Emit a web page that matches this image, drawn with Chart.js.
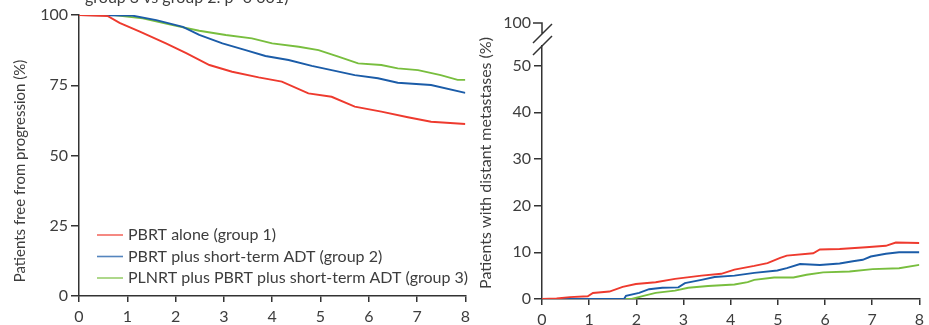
<!DOCTYPE html>
<html>
<head>
<meta charset="utf-8">
<script src="https://cdn.jsdelivr.net/npm/chart.js@4.4.1/dist/chart.umd.min.js"></script>
<style>
  html, body { margin: 0; padding: 0; background: #fff; }
  #wrap { position: relative; width: 929px; height: 325px; overflow: hidden; }
  #left { position: absolute; left: 0; top: 0; }
  #right { position: absolute; left: 470px; top: 0; }
</style>
</head>
<body>
<div id="wrap">
  <canvas id="left" width="475" height="325"></canvas>
  <canvas id="right" width="459" height="325"></canvas>
</div>
<script>
// ---- data ----
const groupLabels = [
  'PBRT alone (group 1)',
  'PBRT plus short-term ADT (group 2)',
  'PLNRT plus PBRT plus short-term ADT (group 3)'
];
const xTicks = [0, 1, 2, 3, 4, 5, 6, 7, 8];
const pfsTicks = [0, 25, 50, 75, 100];
const dmTicks = [0, 10, 20, 30, 40, 50];
const dmBreakLabel = '100';
const pfsTitle = 'Patients free from progression (%)';
const dmTitle = 'Patients with distant metastases (%)';

// freedom from progression (%), by year
const pfsYears1 = [0, 0.6, 0.84, 1.26, 1.8, 2.22, 2.7, 3.17, 3.72, 4.2, 4.75, 5.23, 5.71, 6.26, 6.81, 7.29, 8];
const pfsGroup1 = [100, 99.6, 97.2, 94.1, 89.9, 86.4, 82.2, 79.8, 77.8, 76.3, 72.1, 70.9, 67.4, 65.6, 63.6, 62.0, 61.2];
const pfsYears2 = [0, 1.1, 1.6, 2.15, 2.49, 2.97, 3.45, 3.86, 4.34, 4.82, 5.23, 5.71, 6.19, 6.6, 7.29, 8];
const pfsGroup2 = [100, 99.8, 98.2, 95.8, 92.9, 89.9, 87.5, 85.4, 84.0, 81.9, 80.4, 78.6, 77.5, 75.9, 75.1, 72.3];
const pfsYears3 = [0, 0.72, 1.32, 1.94, 2.49, 3.04, 3.58, 4.0, 4.55, 4.96, 5.37, 5.78, 6.26, 6.6, 7.02, 7.49, 7.84, 8];
const pfsGroup3 = [100, 100, 98.8, 96.4, 94.4, 92.9, 91.7, 89.9, 88.7, 87.5, 85.2, 82.8, 82.2, 81.0, 80.4, 78.6, 76.9, 76.9];

// distant metastases (%), by year
const dmYears1 = [0, 0.31, 0.59, 0.97, 1.08, 1.43, 1.71, 1.99, 2.41, 2.82, 3.38, 3.8, 4.08, 4.5, 4.78, 5.05, 5.19, 5.75, 5.89, 6.31, 6.87, 7.29, 7.5, 8];
const dmGroup1 = [0, 0.1, 0.4, 0.6, 1.3, 1.6, 2.6, 3.2, 3.6, 4.3, 5.0, 5.4, 6.3, 7.1, 7.7, 8.8, 9.3, 9.8, 10.6, 10.7, 11.1, 11.4, 12.1, 12.0];
const dmYears2 = [0, 1.74, 1.78, 2.06, 2.27, 2.55, 2.89, 3.03, 3.38, 3.66, 4.08, 4.5, 4.99, 5.19, 5.47, 5.89, 6.31, 6.59, 6.8, 6.97, 7.29, 7.57, 8];
const dmGroup2 = [0, 0, 0.7, 1.3, 2.1, 2.4, 2.5, 3.4, 4.1, 4.7, 5.0, 5.6, 6.1, 6.6, 7.5, 7.3, 7.6, 8.1, 8.4, 9.1, 9.7, 10.0, 10.0];
const dmYears3 = [0, 1.9, 2.13, 2.41, 2.82, 3.1, 3.52, 4.08, 4.36, 4.5, 4.92, 5.33, 5.61, 5.96, 6.52, 7.01, 7.57, 8];
const dmGroup3 = [0, 0, 0.6, 1.3, 1.8, 2.4, 2.8, 3.1, 3.6, 4.1, 4.6, 4.6, 5.2, 5.7, 5.9, 6.4, 6.6, 7.3];

const colors = ['#ee3a2e', '#1b5ca8', '#78be3e'];
const textColor = '#3d3d3d';
const axisColor = '#333';
const fontFamily = 'Lato, "Open Sans", sans-serif';
const fontSize = 16;

function pts(xs, ys) {
  return xs.map((x, i) => ({ x: x, y: ys[i] }));
}

function lineSet(label, xs, ys, color) {
  return {
    label: label,
    data: pts(xs, ys),
    borderColor: color,
    backgroundColor: color,
    borderWidth: 1.9,
    pointRadius: 0,
    tension: 0,
    fill: false
  };
}

function keepTicks(list) {
  return function (scale) {
    scale.ticks = list.map(v => ({ value: v }));
  };
}

function xScale(height) {
  return {
    type: 'linear',
    min: 0,
    max: 8,
    afterBuildTicks: keepTicks(xTicks),
    afterFit: s => { s.height = height; },
    grid: { drawOnChartArea: false, drawTicks: true, tickLength: 6, color: axisColor, lineWidth: 1.5 },
    border: { display: true, color: axisColor, width: 1.5 },
    ticks: { color: textColor, font: { family: fontFamily, size: fontSize }, padding: 5, maxRotation: 0 }
  };
}

function yScale(max, list, width) {
  return {
    type: 'linear',
    min: 0,
    max: max,
    afterBuildTicks: keepTicks(list),
    afterFit: s => { s.width = width; },
    grid: { drawOnChartArea: false, drawTicks: true, tickLength: 8, color: axisColor, lineWidth: 1.5 },
    border: { display: true, color: axisColor, width: 1.5 },
    ticks: { color: textColor, font: { family: fontFamily, size: fontSize }, padding: 3 }
  };
}

// rotated y title, placed by its centre
function sideTitle(text, cx, cy, size) {
  return {
    id: 'sideTitle',
    afterDraw(chart) {
      const ctx = chart.ctx;
      ctx.save();
      ctx.translate(cx, cy);
      ctx.rotate(-Math.PI / 2);
      ctx.font = size + 'px ' + fontFamily;
      ctx.fillStyle = textColor;
      ctx.textAlign = 'center';
      ctx.textBaseline = 'middle';
      ctx.fillText(text, 0, 0);
      ctx.restore();
    }
  };
}

// legend drawn inside the left plot area
const insideLegend = {
  id: 'insideLegend',
  afterDraw(chart) {
    const ctx = chart.ctx;
    const a = chart.chartArea;
    ctx.save();
    ctx.font = fontSize + 'px ' + fontFamily;
    ctx.textBaseline = 'middle';
    chart.data.datasets.forEach((ds, i) => {
      const y = a.bottom - 61 + i * 21.5;
      ctx.strokeStyle = ds.borderColor;
      ctx.globalAlpha = 0.75;
      ctx.lineWidth = 1.6;
      ctx.beginPath();
      ctx.moveTo(a.left + 18, y);
      ctx.lineTo(a.left + 44, y);
      ctx.stroke();
      ctx.globalAlpha = 1;
      ctx.fillStyle = textColor;
      ctx.fillText(ds.label, a.left + 49, y);
    });
    ctx.restore();
  }
};

// clipped caption line above the left panel
const topCaption = {
  id: 'topCaption',
  afterDraw(chart) {
    const ctx = chart.ctx;
    ctx.save();
    ctx.font = fontSize + 'px ' + fontFamily;
    ctx.fillStyle = textColor;
    ctx.textBaseline = 'alphabetic';
    ctx.fillText('group 3 vs group 2: p=0\u00b7001)', 85, 3);
    ctx.restore();
  }
};

// axis break and 100 mark on the right panel
const axisBreak = {
  id: 'axisBreak',
  afterDraw(chart) {
    const ctx = chart.ctx;
    const a = chart.chartArea;
    const x = a.left;
    const t = a.top;
    ctx.save();
    ctx.strokeStyle = axisColor;
    ctx.lineWidth = 1.5;
    ctx.beginPath();
    ctx.moveTo(x - 9, t - 23);
    ctx.lineTo(x, t - 23);
    ctx.lineTo(x, t - 12);
    ctx.moveTo(x - 9, t - 3);
    ctx.lineTo(x + 10, t - 22);
    ctx.moveTo(x - 9, t + 9);
    ctx.lineTo(x + 10, t - 10);
    ctx.stroke();
    ctx.fillStyle = textColor;
    ctx.font = fontSize + 'px ' + fontFamily;
    ctx.textAlign = 'right';
    ctx.textBaseline = 'middle';
    ctx.fillText(dmBreakLabel, x - 11, t - 23);
    ctx.restore();
  }
};

new Chart(document.getElementById('left'), {
  type: 'line',
  data: {
    datasets: [
      lineSet(groupLabels[0], pfsYears1, pfsGroup1, colors[0]),
      lineSet(groupLabels[1], pfsYears2, pfsGroup2, colors[1]),
      lineSet(groupLabels[2], pfsYears3, pfsGroup3, colors[2])
    ]
  },
  options: {
    responsive: false,
    animation: false,
    layout: { padding: { top: 15, right: 7, left: 0, bottom: 0 } },
    plugins: { legend: { display: false }, tooltip: { enabled: false } },
    scales: {
      x: xScale(29),
      y: yScale(100, pfsTicks, 79)
    }
  },
  plugins: [insideLegend, topCaption, sideTitle(pfsTitle, 20, 171, 15)]
});

new Chart(document.getElementById('right'), {
  type: 'line',
  data: {
    datasets: [
      lineSet(groupLabels[0], dmYears1, dmGroup1, colors[0]),
      lineSet(groupLabels[1], dmYears2, dmGroup2, colors[1]),
      lineSet(groupLabels[2], dmYears3, dmGroup3, colors[2])
    ]
  },
  options: {
    responsive: false,
    animation: false,
    layout: { padding: { top: 46, right: 5, left: 0, bottom: 0 } },
    plugins: { legend: { display: false }, tooltip: { enabled: false } },
    scales: {
      x: xScale(26),
      y: yScale(54.2, dmTicks, 72)
    }
  },
  plugins: [axisBreak, sideTitle(dmTitle, 16, 163, 16)]
});
</script>
</body>
</html>
